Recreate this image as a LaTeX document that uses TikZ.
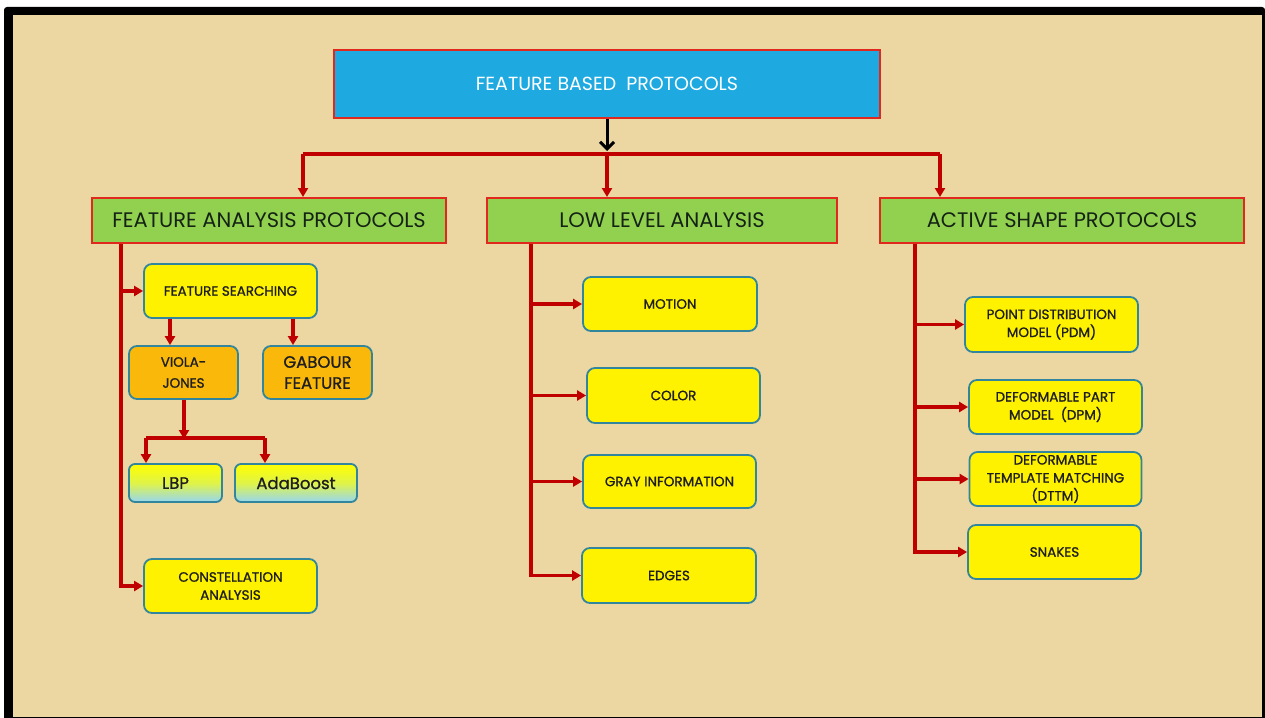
\documentclass[tikz,border=0pt]{standalone}
\usepackage{fontspec}
\setmainfont{Poppins}
\newfontfamily\medfont[FakeBold=1.1]{Poppins}
\usetikzlibrary{arrows.meta,calc}
\definecolor{paper}{RGB}{236,214,162}
\definecolor{topblue}{RGB}{30,170,225}
\definecolor{boxred}{RGB}{225,40,30}
\definecolor{lgreen}{RGB}{146,208,80}
\definecolor{tealb}{RGB}{49,133,156}
\definecolor{orng}{RGB}{250,185,10}
\definecolor{linkred}{RGB}{192,0,0}
\definecolor{lblue}{RGB}{150,215,240}
\definecolor{txt}{RGB}{30,30,30}
\definecolor{gtxt}{RGB}{20,35,20}
\tikzset{
  topbox/.style={draw=boxred,line width=2pt,fill=topblue,text=white,font=\fontsize{19}{22}\selectfont,minimum width=546pt,minimum height=68pt,inner sep=0pt},
  greenbox/.style={draw=boxred,line width=2pt,fill=lgreen,text=gtxt,font=\fontsize{21}{24}\selectfont,minimum height=45pt,inner sep=0pt},
  ybox/.style={draw=tealb,line width=1.8pt,fill=yellow,rounded corners=8pt,text=txt,font=\medfont\fontsize{13.5}{18}\selectfont,minimum width=173pt,minimum height=54pt,align=center,inner sep=0pt},
  obox/.style={draw=tealb,line width=1.8pt,fill=orng,rounded corners=8pt,text=txt,minimum width=109pt,minimum height=53pt,align=center,inner sep=0pt},
  gbox/.style={draw=tealb,line width=1.8pt,top color=yellow,bottom color=lblue,middle color=yellow!70!lblue,rounded corners=6pt,text=txt,font=\medfont\fontsize{16.5}{19}\selectfont,minimum height=38pt,inner sep=0pt},
  link/.style={draw=linkred,line width=3.5pt},
  linkarr/.style={link,-{Triangle[length=9pt,width=10pt]}},
}
\begin{document}
\begin{tikzpicture}[x=1pt,y=-1pt]
\useasboundingbox (0,0) rectangle (1265,717);
\fill[white] (0,0) rectangle (1265,717);
\fill[black,rounded corners=3pt] (4,7) rectangle (1265,730);
\fill[paper] (13,15) rectangle (1262,717);

% nodes
\node[topbox] (top) at (607,84) {FEATURE BASED\ \ PROTOCOLS};
\node[greenbox,minimum width=354pt] (fap) at (269,220.5) {FEATURE ANALYSIS PROTOCOLS};
\node[greenbox,minimum width=350pt] (lla) at (662,220.5) {LOW LEVEL ANALYSIS};
\node[greenbox,minimum width=364pt] (asp) at (1062,220.5) {ACTIVE SHAPE PROTOCOLS};

\node[ybox] (fs) at (230.5,291) {FEATURE SEARCHING};
\node[obox,font=\medfont\fontsize{13.5}{21}\selectfont] (vj) at (183.5,372.5) {VIOLA-\\JONES};
\node[obox,font=\medfont\fontsize{16.5}{21}\selectfont] (gf) at (317.5,372.5) {GABOUR\\FEATURE};
\node[gbox,minimum width=93pt] (lbp) at (175.5,483) {LBP};
\node[gbox,minimum width=122pt] (ada) at (296,483) {AdaBoost};
\node[ybox] (ca) at (230.5,586) {CONSTELLATION\\ANALYSIS};

\node[ybox,minimum width=174pt] (mot) at (670,304) {MOTION};
\node[ybox,minimum height=55pt] (col) at (673.5,395.5) {COLOR};
\node[ybox,minimum height=53pt] (gray) at (669.5,481.5) {GRAY INFORMATION};
\node[ybox,minimum width=174pt,minimum height=55pt] (edg) at (669,575.5) {EDGES};

\node[ybox,minimum height=55pt] (pdm) at (1051.5,324.5) {POINT DISTRIBUTION\\MODEL (PDM)};
\node[ybox] (dpm) at (1055.5,407) {DEFORMABLE PART\\MODEL\ \ (DPM)};
\node[ybox,minimum width=172pt] (dttm) at (1055.5,479) {DEFORMABLE\\TEMPLATE MATCHING\\(DTTM)};
\node[ybox] (snk) at (1054.5,552) {SNAKES};

% top connectors
\coordinate (hub) at (607,154);
\coordinate (cl) at (303,154);
\coordinate (cr) at (940,154);
\draw[link] (cl) -- (cr);
\draw[black,line width=3pt,-{Straight Barb[length=7pt,width=14pt,line width=3pt]}] (top.south) -- ($(hub)+(0,-3)$);
\draw[linkarr] (cl) -- (cl |- fap.north);
\draw[linkarr] (hub) -- (hub |- lla.north);
\draw[linkarr] (cr) -- (cr |- asp.north);

% left branch
\coordinate (tl) at (121,0);
\draw[linkarr] (tl |- fap.south) |- (ca.west);
\draw[linkarr] (tl |- fs.west) -- (fs.west);
\coordinate (a1) at (170,0);
\coordinate (a2) at (293,0);
\draw[linkarr] (a1 |- fs.south) -- (a1 |- vj.north);
\draw[linkarr] (a2 |- fs.south) -- (a2 |- gf.north);
\coordinate (jv) at (184,438);
\coordinate (jl) at (146,438);
\coordinate (jr) at (265,438);
\draw[linkarr] (jv |- vj.south) -- ($(jv)+(0,1)$);
\draw[link] (jl) -- (jr);
\draw[linkarr] (jl) -- (jl |- lbp.north);
\draw[linkarr] (jr) -- (jr |- ada.north);

% middle branch
\coordinate (tm) at (531,0);
\draw[linkarr] (tm |- lla.south) |- (edg.west);
\draw[linkarr] (tm |- mot.west) -- (mot.west);
\draw[linkarr] (tm |- col.west) -- (col.west);
\draw[linkarr] (tm |- gray.west) -- (gray.west);

% right branch
\coordinate (tr) at (915,0);
\draw[linkarr] (tr |- asp.south) |- (snk.west);
\draw[linkarr] (tr |- pdm.west) -- (pdm.west);
\draw[linkarr] (tr |- dpm.west) -- (dpm.west);
\draw[linkarr] (tr |- dttm.west) -- (dttm.west);
\end{tikzpicture}
\end{document}
